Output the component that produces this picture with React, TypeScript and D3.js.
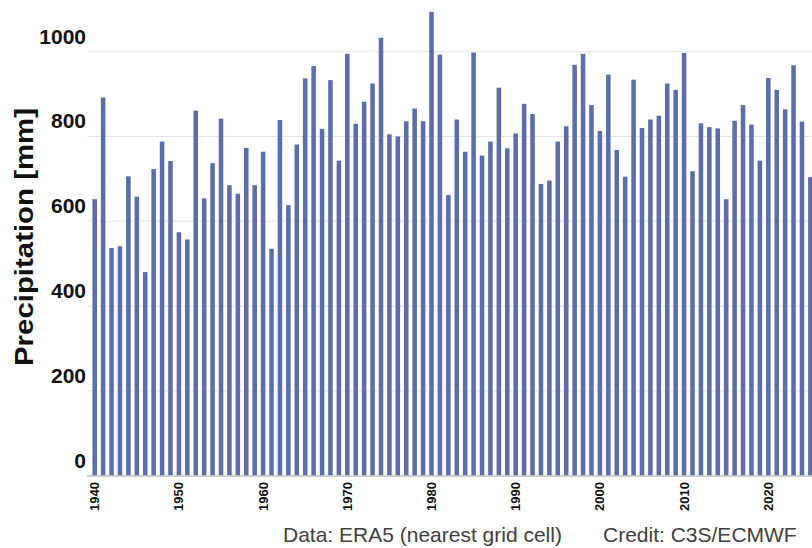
import { useEffect, useRef } from 'react'
import * as d3 from 'd3'

// Annual precipitation
const years = d3.range(1940, 2026)
const precipitation = [
  652, 892, 537, 541, 706, 658, 480, 723, 788, 742,
  574, 557, 861, 654, 737, 842, 685, 665, 773, 685,
  764, 535, 839, 638, 781, 937, 966, 818, 933, 743,
  995, 830, 882, 925, 1033, 805, 800, 836, 866, 836,
  1094, 993, 662, 840, 764, 998, 755, 788, 915, 772,
  807, 877, 853, 688, 696, 788, 824, 969, 995, 874,
  813, 946, 768, 705, 934, 820, 840, 849, 925, 910,
  997, 718, 831, 822, 819, 652, 837, 874, 828, 743,
  938, 910, 864, 968, 835, 704,
]
const yTicks = [0, 200, 400, 600, 800, 1000]
const xTickYears = [1940, 1950, 1960, 1970, 1980, 1990, 2000, 2010, 2020]

const width = 812
const height = 548

export default function App() {
  const svgRef = useRef<SVGSVGElement>(null)

  useEffect(() => {
    if (!svgRef.current) return
    const svg = d3.select(svgRef.current)
    svg.selectAll('*').remove()

    const font = 'Liberation Sans, Arial, sans-serif'
    const plotLeft = 87

    const x = d3.scaleBand<number>()
      .domain(years)
      .range([90.5, 814.6])
      .paddingInner(0.46)
      .paddingOuter(0.23)

    const y = d3.scaleLinear()
      .domain([0, 1000])
      .range([475.5, 51.7])

    // gridlines
    svg.append('g')
      .selectAll('line')
      .data(yTicks.filter(d => d > 0))
      .join('line')
      .attr('x1', plotLeft)
      .attr('x2', width)
      .attr('y1', d => y(d))
      .attr('y2', d => y(d))
      .attr('stroke', '#e4e4e4')
      .attr('stroke-width', 1)

    // bars
    svg.append('g')
      .selectAll('rect')
      .data(years)
      .join('rect')
      .attr('x', d => x(d) ?? 0)
      .attr('y', (d, i) => y(precipitation[i]))
      .attr('width', x.bandwidth())
      .attr('height', (d, i) => y(0) - y(precipitation[i]))
      .attr('fill', '#5b6eaa')

    // baseline
    svg.append('line')
      .attr('x1', plotLeft)
      .attr('x2', width)
      .attr('y1', y(0) + 0.5)
      .attr('y2', y(0) + 0.5)
      .attr('stroke', '#bdbdbd')
      .attr('stroke-width', 1.5)

    // y tick labels (sit above their gridlines)
    svg.append('g')
      .selectAll('text')
      .data(yTicks)
      .join('text')
      .attr('x', 86)
      .attr('y', d => y(d) - 8)
      .attr('text-anchor', 'end')
      .attr('font-family', font)
      .attr('font-weight', 'bold')
      .attr('font-size', 21)
      .attr('fill', '#111')
      .text(d => d)

    // x tick labels, rotated
    svg.append('g')
      .selectAll('text')
      .data(xTickYears)
      .join('text')
      .attr('transform', d => `translate(${(x(d) ?? 0) + x.bandwidth() / 2 + 4.5}, 482) rotate(-90)`)
      .attr('text-anchor', 'end')
      .attr('font-family', font)
      .attr('font-weight', 'bold')
      .attr('font-size', 13)
      .attr('fill', '#111')
      .text(d => d)

    // y-axis title
    svg.append('text')
      .attr('transform', 'translate(33, 237) rotate(-90)')
      .attr('text-anchor', 'middle')
      .attr('font-family', font)
      .attr('font-weight', 'bold')
      .attr('font-size', 25)
      .attr('textLength', 258)
      .attr('lengthAdjust', 'spacingAndGlyphs')
      .attr('fill', '#111')
      .text('Precipitation [mm]')

    // footer
    svg.append('text')
      .attr('x', 283)
      .attr('y', 542)
      .attr('font-family', font)
      .attr('font-size', 21)
      .attr('fill', '#404040')
      .text('Data: ERA5 (nearest grid cell)')

    svg.append('text')
      .attr('x', 603)
      .attr('y', 542)
      .attr('font-family', font)
      .attr('font-size', 21)
      .attr('fill', '#404040')
      .text('Credit: C3S/ECMWF')
  }, [])

  return (
    <svg
      ref={svgRef}
      width={width}
      height={height}
      viewBox={`0 0 ${width} ${height}`}
      style={{ position: 'absolute', left: 0, top: 0, background: '#fff', overflow: 'hidden' }}
    />
  )
}
